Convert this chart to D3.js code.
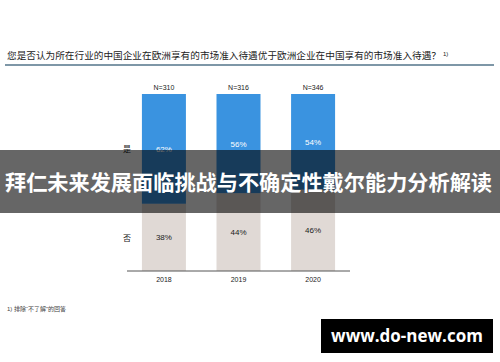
<!DOCTYPE html>
<html><head><meta charset="utf-8">
<script src="https://cdn.jsdelivr.net/npm/d3@7"></script>
<style>body{margin:0;background:#fff}svg{display:block}</style>
</head><body>
<svg id="c" width="500" height="362"></svg>
<script>
const years = ["2018", "2019", "2020"];
const nLabels = ["N=310", "N=316", "N=346"];
const yesVals = [62, 56, 54];
const noVals = [38, 44, 46];
const seriesNames = ["是", "否"];
const titleText = "您是否认为所在行业的中国企业在欧洲享有的市场准入待遇优于欧洲企业在中国享有的市场准入待遇？";
const footText = "1) 排除\u201C不了解\u201D的回答";
const overlayText = "拜仁未来发展面临挑战与不确定性戴尔能力分析解读";
const watermark = "www.do-new.com";

const svg = d3.select("#c");
const font = "'Liberation Sans', 'Noto Sans CJK SC', sans-serif";

// title
const t = svg.append("text").attr("x", 7).attr("y", 59).attr("font-family", font)
  .attr("font-size", 9.3).attr("fill", "#222");
t.append("tspan").attr("textLength", 434).attr("lengthAdjust", "spacingAndGlyphs").text(titleText);
t.append("tspan").attr("font-size", 6).attr("dx", 2).attr("dy", -3).text("1)");
svg.append("line").attr("x1", 5).attr("x2", 494).attr("y1", 65).attr("y2", 65)
  .attr("stroke", "#7e97a7").attr("stroke-width", 2);

const x = d3.scaleBand().domain(years).range([127, 350]).paddingInner(0.41).paddingOuter(0.2);
const y = d3.scaleLinear().domain([0, 100]).range([271, 94]);

const g = svg.append("g");
years.forEach((yr, i) => {
  const x0 = x(yr), w = x.bandwidth();
  g.append("rect").attr("x", x0).attr("width", w).attr("y", y(noVals[i])).attr("height", y(0) - y(noVals[i])).attr("fill", "#e0d9d5");
  g.append("rect").attr("x", x0).attr("width", w).attr("y", y(100)).attr("height", y(noVals[i]) - y(100)).attr("fill", "#3a93e0");
  g.append("text").attr("x", x0 + w / 2).attr("y", (y(100) + y(noVals[i])) / 2 + 3).attr("text-anchor", "middle")
    .attr("font-family", font).attr("font-size", 8).attr("fill", "#fff").text(yesVals[i] + "%");
  g.append("text").attr("x", x0 + w / 2).attr("y", (y(0) + y(noVals[i])) / 2 + 3).attr("text-anchor", "middle")
    .attr("font-family", font).attr("font-size", 8).attr("fill", "#222").text(noVals[i] + "%");
  g.append("text").attr("x", x0 + w / 2).attr("y", y(100) - 4).attr("text-anchor", "middle")
    .attr("font-family", font).attr("font-size", 7).attr("fill", "#222").text(nLabels[i]);
});

const ax = svg.append("g").attr("transform", "translate(0,271)")
  .call(d3.axisBottom(x).tickSize(0).tickPadding(6));
ax.select(".domain").attr("stroke", "#555").attr("d", "M127,0H350");
ax.selectAll("text").attr("font-family", font).attr("font-size", 7).attr("fill", "#222");

// series labels
svg.append("text").attr("x", 131).attr("y", (y(100) + y(noVals[0])) / 2 + 3).attr("text-anchor", "end")
  .attr("font-family", font).attr("font-size", 8).attr("fill", "#222").text(seriesNames[0]);
svg.append("text").attr("x", 131).attr("y", (y(0) + y(noVals[0])) / 2 + 4).attr("text-anchor", "end")
  .attr("font-family", font).attr("font-size", 8).attr("fill", "#222").text(seriesNames[1]);

// footnote
svg.append("text").attr("x", 7).attr("y", 311).attr("font-family", font)
  .attr("font-size", 6).attr("fill", "#444").text(footText);

// overlay band
svg.append("rect").attr("x", 0).attr("y", 150).attr("width", 500).attr("height", 63).attr("fill", "rgba(0,0,0,0.6)");
svg.append("text").attr("x", 5).attr("y", 190)
  .attr("font-family", "'Noto Sans CJK SC', sans-serif").attr("font-weight", "bold")
  .attr("font-size", 21).attr("textLength", 487).attr("lengthAdjust", "spacingAndGlyphs")
  .attr("fill", "#fff").text(overlayText);

// watermark
svg.append("rect").attr("x", 321).attr("y", 319).attr("width", 172).attr("height", 34).attr("fill", "#000");
svg.append("text").attr("x", 407).attr("y", 342).attr("text-anchor", "middle")
  .attr("font-family", "'Open Sans', 'DejaVu Sans', sans-serif").attr("font-weight", "bold")
  .attr("font-size", 17).attr("fill", "#fff").text(watermark);
</script>
</body></html>
